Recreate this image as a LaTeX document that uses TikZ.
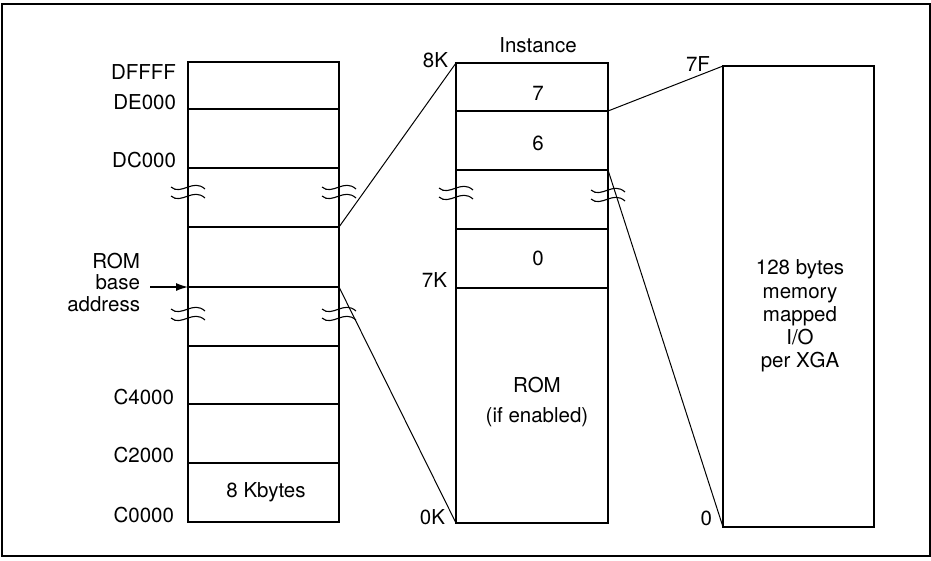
\documentclass[tikz,border=0pt]{standalone}
\usepackage{fontspec}
\setmainfont{TeX Gyre Heros}
\usetikzlibrary{arrows.meta}
\tikzset{
  txt/.style={font=\fontsize{20.5}{23}\selectfont},
  addr/.style={txt, anchor=east},
  brkmark/.pic={
    \draw[line width=1.1pt] (-17,-3) .. controls (-7,-12) and (5,6) .. (17,-5);
    \draw[line width=1.1pt] (-17,6) .. controls (-7,-3) and (5,15) .. (17,4);
  }
}
\begin{document}
\begin{tikzpicture}[y=1pt, x=1pt, yscale=-1, xscale=1, inner sep=0pt, outer sep=0pt, line width=1.2pt]
\useasboundingbox (0,0) rectangle (931,560);
\draw[line width=1.4pt] (2,4) rectangle (930,556);

\draw (188,62) rectangle (339,522);
\foreach \y in {109,168,227,287,346,404,463}
  \draw (188,\y) -- (339,\y);
\foreach \y in {193,315} {
  \pic at (188,\y) {brkmark};
  \pic at (339,\y) {brkmark};
}

\draw (456,63) rectangle (608,523);
\foreach \y in {111,170,229,288}
  \draw (456,\y) -- (608,\y);
\pic at (456,194) {brkmark};
\pic at (608,196) {brkmark};

\draw (723,66) rectangle (874,527);

\coordinate (lhi) at (339,227);
\coordinate (llo) at (339,287);
\coordinate (mtop) at (456,63);
\coordinate (mbot) at (456,523);
\coordinate (mhi) at (608,111);
\coordinate (mlo) at (608,170);
\coordinate (rtop) at (723,66);
\coordinate (rbot) at (723,527);
\coordinate (romedge) at (188,287);

\draw[line width=1pt] (lhi) -- (mtop);
\draw[line width=1pt] (llo) -- (mbot);
\draw[line width=1pt] (mhi) -- (rtop);
\draw[line width=1pt] (mlo) -- (rbot);

\node[addr] (dffff) at (176,72) {DFFFF};
\node[addr] (de000) at (176,102) {DE000};
\node[addr] (dc000) at (176,160) {DC000};
\node[addr] (c4000) at (174,397) {C4000};
\node[addr] (c2000) at (174,455) {C2000};
\node[addr] (c0000) at (174,515) {C0000};
\node[txt, anchor=east, align=right, font=\fontsize{20.5}{21.5}\selectfont] (rombase) at (140,282) {ROM\\base\\address};
\coordinate (arrstart) at (150,287);
\draw[-{Latex[length=12pt,width=8pt]}] (arrstart) -- (romedge);
\node[txt] (kbytes) at (266,492) {8 Kbytes};

\node[txt] (inst) at (538,45) {Instance};
\node[addr] (k8) at (448,60) {8K};
\node[addr] (k7) at (447,280) {7K};
\node[addr] (k0) at (445,517) {0K};
\node[txt] (i7) at (538,93) {7};
\node[txt] (i6) at (538,143) {6};
\node[txt] (i0) at (538,258) {0};
\node[txt, align=center, font=\fontsize{20.5}{30}\selectfont] (rom) at (537,402) {ROM\\(if enabled)};

\node[addr] (f7) at (710,64) {7F};
\node[addr] (z0) at (712,518) {0};
\node[txt, align=center, font=\fontsize{20.5}{23.2}\selectfont] (mmio) at (800,316) {128 bytes\\memory\\mapped\\I/O\\per XGA};
\end{tikzpicture}
\end{document}
